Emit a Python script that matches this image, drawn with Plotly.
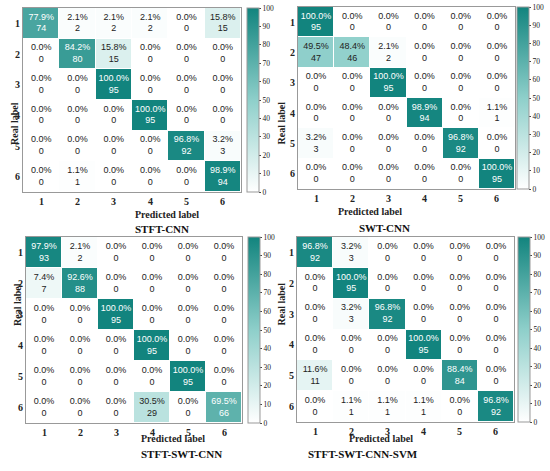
import plotly.graph_objects as go

labels = ["1", "2", "3", "4", "5", "6"]
titles = ["STFT-CNN", "SWT-CNN", "STFT-SWT-CNN", "STFT-SWT-CNN-SVM"]

pct_stft_cnn = [
    [77.9, 2.1, 2.1, 2.1, 0.0, 15.8],
    [0.0, 84.2, 15.8, 0.0, 0.0, 0.0],
    [0.0, 0.0, 100.0, 0.0, 0.0, 0.0],
    [0.0, 0.0, 0.0, 100.0, 0.0, 0.0],
    [0.0, 0.0, 0.0, 0.0, 96.8, 3.2],
    [0.0, 1.1, 0.0, 0.0, 0.0, 98.9],
]
cnt_stft_cnn = [
    [74, 2, 2, 2, 0, 15],
    [0, 80, 15, 0, 0, 0],
    [0, 0, 95, 0, 0, 0],
    [0, 0, 0, 95, 0, 0],
    [0, 0, 0, 0, 92, 3],
    [0, 1, 0, 0, 0, 94],
]
pct_swt_cnn = [
    [100.0, 0.0, 0.0, 0.0, 0.0, 0.0],
    [49.5, 48.4, 2.1, 0.0, 0.0, 0.0],
    [0.0, 0.0, 100.0, 0.0, 0.0, 0.0],
    [0.0, 0.0, 0.0, 98.9, 0.0, 1.1],
    [3.2, 0.0, 0.0, 0.0, 96.8, 0.0],
    [0.0, 0.0, 0.0, 0.0, 0.0, 100.0],
]
cnt_swt_cnn = [
    [95, 0, 0, 0, 0, 0],
    [47, 46, 2, 0, 0, 0],
    [0, 0, 95, 0, 0, 0],
    [0, 0, 0, 94, 0, 1],
    [3, 0, 0, 0, 92, 0],
    [0, 0, 0, 0, 0, 95],
]
pct_stft_swt_cnn = [
    [97.9, 2.1, 0.0, 0.0, 0.0, 0.0],
    [7.4, 92.6, 0.0, 0.0, 0.0, 0.0],
    [0.0, 0.0, 100.0, 0.0, 0.0, 0.0],
    [0.0, 0.0, 0.0, 100.0, 0.0, 0.0],
    [0.0, 0.0, 0.0, 0.0, 100.0, 0.0],
    [0.0, 0.0, 0.0, 30.5, 0.0, 69.5],
]
cnt_stft_swt_cnn = [
    [93, 2, 0, 0, 0, 0],
    [7, 88, 0, 0, 0, 0],
    [0, 0, 95, 0, 0, 0],
    [0, 0, 0, 95, 0, 0],
    [0, 0, 0, 0, 95, 0],
    [0, 0, 0, 29, 0, 66],
]
pct_stft_swt_cnn_svm = [
    [96.8, 3.2, 0.0, 0.0, 0.0, 0.0],
    [0.0, 100.0, 0.0, 0.0, 0.0, 0.0],
    [0.0, 3.2, 96.8, 0.0, 0.0, 0.0],
    [0.0, 0.0, 0.0, 100.0, 0.0, 0.0],
    [11.6, 0.0, 0.0, 0.0, 88.4, 0.0],
    [0.0, 1.1, 1.1, 1.1, 0.0, 96.8],
]
cnt_stft_swt_cnn_svm = [
    [92, 3, 0, 0, 0, 0],
    [0, 95, 0, 0, 0, 0],
    [0, 3, 92, 0, 0, 0],
    [0, 0, 0, 95, 0, 0],
    [11, 0, 0, 0, 84, 0],
    [0, 1, 1, 1, 0, 92],
]

pcts = [pct_stft_cnn, pct_swt_cnn, pct_stft_swt_cnn, pct_stft_swt_cnn_svm]
cnts = [cnt_stft_cnn, cnt_swt_cnn, cnt_stft_swt_cnn, cnt_stft_swt_cnn_svm]

W, H = 550, 471
# pixel boxes: (x0, x1, y0, y1) of heatmap; colorbar x0, x1
boxes = [
    (23, 241, 8, 192, 247, 259),
    (298, 515, 7, 189, 517, 529),
    (26, 242, 237, 423, 248, 260),
    (297, 514, 237, 422, 518, 530),
]
title_pos = [(133, 229), (412, 228), (139, 462), (420, 462)]
xlab_pos = [(133, 214), (404, 211), (139, 446), (415, 446)]
ylab_pos = [(7, 100), (281, 100), (10, 328), (281, 328)]

colorscale = [[0.0, "#ffffff"], [0.5, "#8ecfca"], [1.0, "#12847e"]]
serif = "Liberation Serif"
sans = "Liberation Sans"

fig = go.Figure()
annotations = []
for i in range(4):
    x0, x1, y0, y1, c0, c1 = boxes[i]
    ax = "" if i == 0 else str(i + 1)
    fig.add_trace(go.Heatmap(
        z=pcts[i], x=labels, y=labels,
        xaxis="x" + ax, yaxis="y" + ax,
        zmin=0, zmax=100, colorscale=colorscale, xgap=1, ygap=1,
        hoverinfo="skip",
        colorbar=dict(
            x=c0 / W, xanchor="left", thickness=c1 - c0, thicknessmode="pixels",
            y=1 - (y0 + y1) / 2 / H, yanchor="middle",
            len=(y1 - y0) / H, lenmode="fraction",
            outlinecolor="#999999", outlinewidth=1,
            tickvals=[0, 10, 20, 30, 40, 50, 60, 70, 80, 90, 100],
            ticks="outside", ticklen=2, tickcolor="#444",
            ticklabeloverflow="allow",
            tickfont=dict(family=serif, size=7.5, color="#222"),
            xpad=0, ypad=0,
        ),
    ))
    xs, ys, txt, cols = [], [], [], []
    for r in range(6):
        for c in range(6):
            xs.append(labels[c])
            ys.append(labels[r])
            txt.append(f"{pcts[i][r][c]:.1f}%<br>{cnts[i][r][c]}")
            cols.append("#ffffff" if pcts[i][r][c] > 55 else "#222222")
    fig.add_trace(go.Scatter(
        x=xs, y=ys, mode="text", text=txt,
        textfont=dict(family=sans, size=9, color=cols),
        xaxis="x" + ax, yaxis="y" + ax, hoverinfo="skip", showlegend=False,
    ))
    axis_common = dict(showgrid=False, zeroline=False, showline=True, mirror=True,
                       linecolor="#999999", linewidth=1, ticks="",
                       showticklabels=False)
    fig.update_layout(**{
        "xaxis" + ax: dict(domain=[x0 / W, x1 / W], anchor="y" + ax,
                           range=[-0.5, 5.5], **axis_common),
        "yaxis" + ax: dict(domain=[1 - y1 / H, 1 - y0 / H], anchor="x" + ax,
                           range=[5.5, -0.5], **axis_common),
    })
    # tick labels placed on the axes' own category scales
    for j, lab in enumerate(labels):
        annotations.append(dict(x=j, xref="x" + ax, y=0, yref="y" + ax + " domain",
                                yanchor="middle", yshift=-9, text="<b>" + lab + "</b>",
                                showarrow=False,
                                font=dict(family=serif, size=10, color="#222")))
        annotations.append(dict(y=j, yref="y" + ax, x=0, xref="x" + ax + " domain",
                                xanchor="center", xshift=-6, text="<b>" + lab + "</b>",
                                showarrow=False,
                                font=dict(family=serif, size=10, color="#222")))
    tx, ty = title_pos[i]
    annotations.append(dict(x=tx / W, y=1 - ty / H, xref="paper", yref="paper",
                            text="<b>" + titles[i] + "</b>", showarrow=False,
                            font=dict(family=serif, size=11, color="#111")))
    px, py = xlab_pos[i]
    annotations.append(dict(x=px / W, y=1 - py / H, xref="paper", yref="paper",
                            text="<b>Predicted label</b>", showarrow=False,
                            font=dict(family=serif, size=10, color="#222")))
    lx, ly = ylab_pos[i]
    annotations.append(dict(x=lx / W, y=1 - ly / H, xref="paper", yref="paper",
                            text="<b>Real label</b>", showarrow=False, textangle=-90,
                            font=dict(family=serif, size=10, color="#222")))

fig.update_layout(width=W, height=H,
                  margin=dict(l=0, r=0, t=0, b=0, autoexpand=False),
                  paper_bgcolor="white", plot_bgcolor="white",
                  annotations=annotations, showlegend=False)
fig.write_html("out.html", config={"displayModeBar": False},
               post_script="document.body.style.margin='0';document.body.style.overflow='hidden';")
